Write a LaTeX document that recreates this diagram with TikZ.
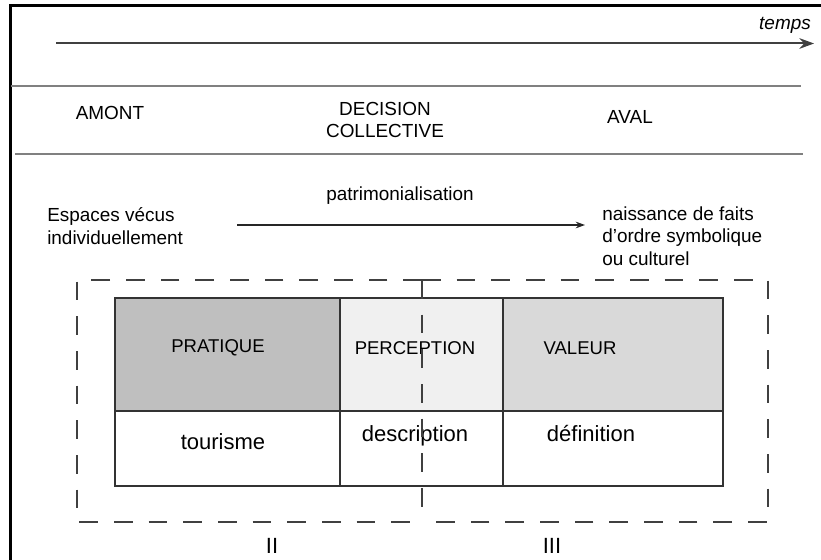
\documentclass[tikz,border=0pt]{standalone}
\usepackage{fontspec}
\setmainfont{Liberation Sans}
\usetikzlibrary{arrows.meta}
\begin{document}
\begin{tikzpicture}[x=.75pt,y=-.75pt,>={Stealth[length=11pt,width=8pt]},
	txt/.style={font=\fontsize{14.2}{17}\selectfont,inner sep=0pt},
	tab/.style={font=\fontsize{13.9}{16}\selectfont,inner sep=0pt},
	big/.style={font=\fontsize{16.5}{19}\selectfont,inner sep=0pt},
	cell/.style={draw=black!80,line width=1.5pt},
	zone/.style={draw=black!75,line width=1.5pt,dash pattern=on 14pt off 12pt}]
	\useasboundingbox (0,0) rectangle (821,560);
	\draw[line width=2.25pt](10,560)--(10,6)--(821,6);
	% axe du temps
	\coordinate (t0) at (56,43.5);\coordinate (t1) at (814,43.5);
	\draw[->,line width=1.5pt,black!75](t0)--(t1);
	\node[txt,font=\fontsize{14.2}{17}\selectfont\itshape] (temps) at (785,25) {temps};
	\foreach \y/\a/\b in {85.7/11/801,154/15/803}\draw[black!50,line width=1.5pt](\a,\y)--(\b,\y);
	\node[txt] (amont) at (110,113) {AMONT};
	\node[txt,align=center] (decision) at (385,120) {DECISION\\COLLECTIVE};
	\node[txt] (aval) at (630,117) {AVAL};
	% patrimonialisation
	\node[txt] (patri) at (400,196) {patrimonialisation};
	\node[txt,align=left,anchor=west] (espaces) at (47,226) {Espaces vécus\\individuellement};
	\node[txt,align=left,anchor=west] (faits) at (602,236) {naissance de faits\\d’ordre symbolique\\ou culturel};
	\coordinate (p0) at (237,225);\coordinate (p1) at (585,225);
	\draw[->,>={Stealth[length=7pt,width=5pt]},line width=1pt,black!85](p0)--(p1);
	% tableau
	\foreach \xa/\xb/\c in {115/340/black!25,340/503/black!6,503/723/black!15}{
		\draw[cell,fill=\c](\xa,297.7) rectangle (\xb,410.7);
		\draw[cell](\xa,410.7) rectangle (\xb,485.7);}
	\foreach \n/\x/\y/\t in {prat/218/348/PRATIQUE,perc/415/348/PERCEPTION,val/580/348/VALEUR}
		\node[tab] (\n) at (\x,\y) {\t};
	\foreach \n/\x/\y/\t in {tour/223/442/tourisme,desc/415/436/description,def/591/434/définition}
		\node[big] (\n) at (\x,\y) {\t};
	% zones II et III
	\draw[zone](422,280)--(77,280)--(77,522)--(422,522);
	\draw[zone](422,280)--(768,280)--(768,522)--(422,522);
	\draw[zone](422,280)--(422,522);
	\node[big] (deux) at (272,546) {II};
	\node[big] (trois) at (552,546) {III};
\end{tikzpicture}
\end{document}
